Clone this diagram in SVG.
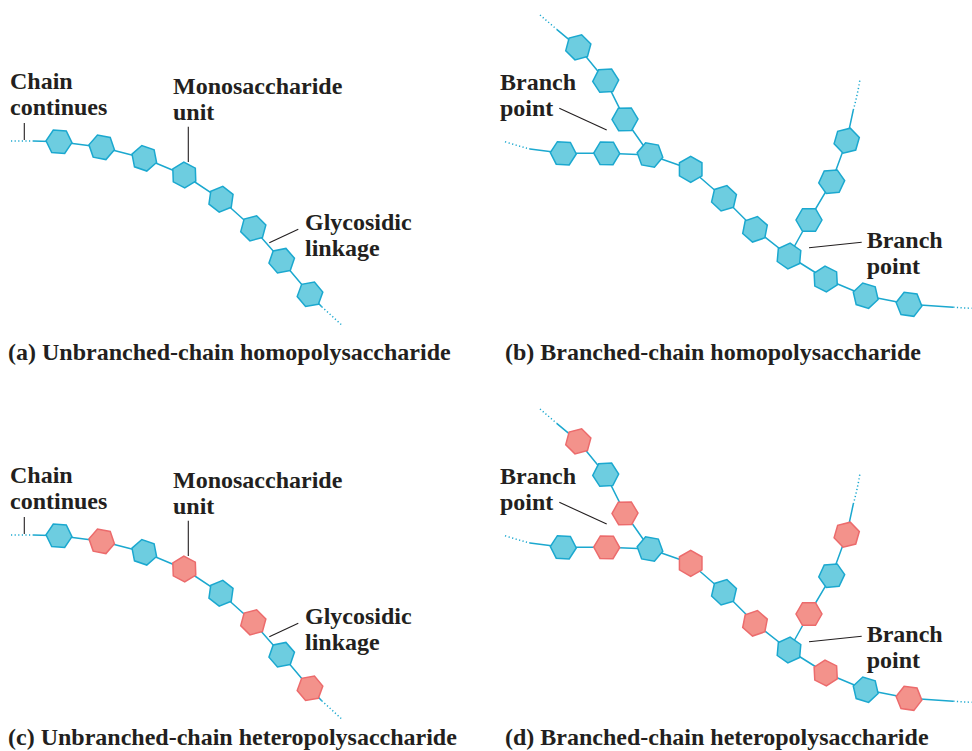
<svg xmlns="http://www.w3.org/2000/svg" xmlns:xlink="http://www.w3.org/1999/xlink" width="972" height="751" viewBox="0 0 972 751">
<style>
text{font-family:"Liberation Serif","Times New Roman",serif;font-weight:bold;font-size:24px;fill:#231f20}
.b{fill:#6dcde0;stroke:#1ba8cf;stroke-width:1.5}
.p{fill:#f3928b;stroke:#ec6b6c;stroke-width:1.5}
.ch{fill:none;stroke:#1ba8cf;stroke-width:1.5;stroke-linejoin:round}
.dt{fill:none;stroke:#1ba8cf;stroke-width:1.5;stroke-dasharray:1.2 2.4}
.ld{fill:none;stroke:#231f20;stroke-width:1.1}
</style>
<defs>
<polygon id="hx" points="13,0 6.5,11.26 -6.5,11.26 -13,0 -6.5,-11.26 6.5,-11.26"/>
</defs>
<rect width="972" height="751" fill="#fff"/>
<g id="connectors">
 <g id="conn-a">
  <polyline class="ch" points="33,141 59,141.7 101.7,147.3 144.3,158.3 184.3,175 221,199.3 253.3,228.3 281.7,260.7 310,294.3 321.7,306.7"/>
  <line class="dt" x1="11" y1="141" x2="33" y2="141"/>
  <line class="dt" x1="321.7" y1="306.7" x2="341.7" y2="325"/>
 </g>
 <g id="conn-b">
  <polyline class="ch" points="530,149 563.3,153.3 606.7,153.3 650,155 690.7,169.3 724,198.3 755,229.3 789,256 825.7,279 865.7,295.7 909,304.3 953.3,307.3"/>
  <polyline class="ch" points="556.7,29.3 578.3,47.3 605.7,80.7 625,119.3 650,155"/>
  <polyline class="ch" points="789,256 809,220 831.7,181.7 846.7,140.7 853.3,110"/>
  <path class="dt" d="M505,141.7 Q518,146 530,149"/>
  <line class="dt" x1="953.3" y1="307.3" x2="971.7" y2="308.3"/>
  <line class="dt" x1="540" y1="15" x2="556.7" y2="29.3"/>
  <path class="dt" d="M853.3,110 Q857.5,95 860,79.3"/>
 </g>
 <g transform="translate(0,394)">
  <g id="conn-c">
   <polyline class="ch" points="33,141 59,141.7 101.7,147.3 144.3,158.3 184.3,175 221,199.3 253.3,228.3 281.7,260.7 310,294.3 321.7,306.7"/>
   <line class="dt" x1="11" y1="141" x2="33" y2="141"/>
   <line class="dt" x1="321.7" y1="306.7" x2="341.7" y2="325"/>
  </g>
  <g id="conn-d">
   <polyline class="ch" points="530,149 563.3,153.3 606.7,153.3 650,155 690.7,169.3 724,198.3 755,229.3 789,256 825.7,279 865.7,295.7 909,304.3 953.3,307.3"/>
   <polyline class="ch" points="556.7,29.3 578.3,47.3 605.7,80.7 625,119.3 650,155"/>
   <polyline class="ch" points="789,256 809,220 831.7,181.7 846.7,140.7 853.3,110"/>
   <path class="dt" d="M505,141.7 Q518,146 530,149"/>
   <line class="dt" x1="953.3" y1="307.3" x2="971.7" y2="308.3"/>
   <line class="dt" x1="540" y1="15" x2="556.7" y2="29.3"/>
   <path class="dt" d="M853.3,110 Q857.5,95 860,79.3"/>
  </g>
 </g>
</g>

<g id="panel-a">
 <g id="a1"><use xlink:href="#hx" class="b" transform="translate(59,141.7) rotate(4)"/></g>
 <g id="a2"><use xlink:href="#hx" class="b" transform="translate(101.7,147.3) rotate(11)"/></g>
 <g id="a3"><use xlink:href="#hx" class="b" transform="translate(144.3,158.3) rotate(19)"/></g>
 <g id="a4"><use xlink:href="#hx" class="b" transform="translate(184.3,175) rotate(28)"/></g>
 <g id="a5"><use xlink:href="#hx" class="b" transform="translate(221,199.3) rotate(38)"/></g>
 <g id="a6"><use xlink:href="#hx" class="b" transform="translate(253.3,228.3) rotate(45)"/></g>
 <g id="a7"><use xlink:href="#hx" class="b" transform="translate(281.7,260.7) rotate(49)"/></g>
 <g id="a8"><use xlink:href="#hx" class="b" transform="translate(310,294.3) rotate(50)"/></g>
 <g id="a-labels">
  <text x="10" y="89">Chain</text>
  <text x="10" y="115">continues</text>
  <line class="ld" x1="24.3" y1="123" x2="24.3" y2="140"/>
  <text x="173" y="94">Monosaccharide</text>
  <text x="173" y="120">unit</text>
  <line class="ld" x1="188.3" y1="126.7" x2="188.3" y2="162"/>
  <text x="305" y="230">Glycosidic</text>
  <text x="305" y="256">linkage</text>
  <line class="ld" x1="298.3" y1="229.3" x2="269.3" y2="242.7"/>
 </g>
</g>

<g id="panel-b">
 <g id="b-u1"><use xlink:href="#hx" class="b" transform="translate(578.3,47.3) rotate(45)"/></g>
 <g id="b-u2"><use xlink:href="#hx" class="b" transform="translate(605.7,80.7) rotate(57)"/></g>
 <g id="b-u3"><use xlink:href="#hx" class="b" transform="translate(625,119.3) rotate(59)"/></g>
 <g id="b-m1"><use xlink:href="#hx" class="b" transform="translate(563.3,153.3) rotate(3)"/></g>
 <g id="b-m2"><use xlink:href="#hx" class="b" transform="translate(606.7,153.3) rotate(1)"/></g>
 <g id="b-m3"><use xlink:href="#hx" class="b" transform="translate(650,155) rotate(10)"/></g>
 <g id="b-m4"><use xlink:href="#hx" class="b" transform="translate(690.7,169.3) rotate(30)"/></g>
 <g id="b-m5"><use xlink:href="#hx" class="b" transform="translate(724,198.3) rotate(43)"/></g>
 <g id="b-m6"><use xlink:href="#hx" class="b" transform="translate(755,229.3) rotate(41)"/></g>
 <g id="b-m7"><use xlink:href="#hx" class="b" transform="translate(789,256) rotate(35)"/></g>
 <g id="b-m8"><use xlink:href="#hx" class="b" transform="translate(825.7,279) rotate(27)"/></g>
 <g id="b-m9"><use xlink:href="#hx" class="b" transform="translate(865.7,295.7) rotate(17)"/></g>
 <g id="b-m10"><use xlink:href="#hx" class="b" transform="translate(909,304.3) rotate(8)"/></g>
 <g id="b-r1"><use xlink:href="#hx" class="b" transform="translate(809,220) rotate(0)"/></g>
 <g id="b-r2"><use xlink:href="#hx" class="b" transform="translate(831.7,181.7) rotate(-5)"/></g>
 <g id="b-r3"><use xlink:href="#hx" class="b" transform="translate(846.7,140.7) rotate(-14)"/></g>
 <g id="b-labels">
  <text x="500" y="90">Branch</text>
  <text x="500" y="116">point</text>
  <line class="ld" x1="559.3" y1="108.3" x2="606.7" y2="130"/>
  <text x="866.7" y="248">Branch</text>
  <text x="866.7" y="274">point</text>
  <line class="ld" x1="809" y1="247.7" x2="861.7" y2="242.3"/>
 </g>
</g>

<g transform="translate(0,394)">
 <g id="panel-c">
  <g id="c1"><use xlink:href="#hx" class="b" transform="translate(59,141.7) rotate(4)"/></g>
  <g id="c2"><use xlink:href="#hx" class="p" transform="translate(101.7,147.3) rotate(11)"/></g>
  <g id="c3"><use xlink:href="#hx" class="b" transform="translate(144.3,158.3) rotate(19)"/></g>
  <g id="c4"><use xlink:href="#hx" class="p" transform="translate(184.3,175) rotate(28)"/></g>
  <g id="c5"><use xlink:href="#hx" class="b" transform="translate(221,199.3) rotate(38)"/></g>
  <g id="c6"><use xlink:href="#hx" class="p" transform="translate(253.3,228.3) rotate(45)"/></g>
  <g id="c7"><use xlink:href="#hx" class="b" transform="translate(281.7,260.7) rotate(49)"/></g>
  <g id="c8"><use xlink:href="#hx" class="p" transform="translate(310,294.3) rotate(50)"/></g>
  <g id="c-labels">
   <text x="10" y="89">Chain</text>
   <text x="10" y="115">continues</text>
   <line class="ld" x1="24.3" y1="123" x2="24.3" y2="140"/>
   <text x="173" y="94">Monosaccharide</text>
   <text x="173" y="120">unit</text>
   <line class="ld" x1="188.3" y1="126.7" x2="188.3" y2="162"/>
   <text x="305" y="230">Glycosidic</text>
   <text x="305" y="256">linkage</text>
   <line class="ld" x1="298.3" y1="229.3" x2="269.3" y2="242.7"/>
  </g>
 </g>
 <g id="panel-d">
  <g id="d-u1"><use xlink:href="#hx" class="p" transform="translate(578.3,47.3) rotate(45)"/></g>
  <g id="d-u2"><use xlink:href="#hx" class="b" transform="translate(605.7,80.7) rotate(57)"/></g>
  <g id="d-u3"><use xlink:href="#hx" class="p" transform="translate(625,119.3) rotate(59)"/></g>
  <g id="d-m1"><use xlink:href="#hx" class="b" transform="translate(563.3,153.3) rotate(3)"/></g>
  <g id="d-m2"><use xlink:href="#hx" class="p" transform="translate(606.7,153.3) rotate(1)"/></g>
  <g id="d-m3"><use xlink:href="#hx" class="b" transform="translate(650,155) rotate(10)"/></g>
  <g id="d-m4"><use xlink:href="#hx" class="p" transform="translate(690.7,169.3) rotate(30)"/></g>
  <g id="d-m5"><use xlink:href="#hx" class="b" transform="translate(724,198.3) rotate(43)"/></g>
  <g id="d-m6"><use xlink:href="#hx" class="p" transform="translate(755,229.3) rotate(41)"/></g>
  <g id="d-m7"><use xlink:href="#hx" class="b" transform="translate(789,256) rotate(35)"/></g>
  <g id="d-m8"><use xlink:href="#hx" class="p" transform="translate(825.7,279) rotate(27)"/></g>
  <g id="d-m9"><use xlink:href="#hx" class="b" transform="translate(865.7,295.7) rotate(17)"/></g>
  <g id="d-m10"><use xlink:href="#hx" class="p" transform="translate(909,304.3) rotate(8)"/></g>
  <g id="d-r1"><use xlink:href="#hx" class="p" transform="translate(809,220) rotate(0)"/></g>
  <g id="d-r2"><use xlink:href="#hx" class="b" transform="translate(831.7,181.7) rotate(-5)"/></g>
  <g id="d-r3"><use xlink:href="#hx" class="p" transform="translate(846.7,140.7) rotate(-14)"/></g>
  <g id="d-labels">
   <text x="500" y="90">Branch</text>
   <text x="500" y="116">point</text>
   <line class="ld" x1="559.3" y1="108.3" x2="606.7" y2="130"/>
   <text x="866.7" y="248">Branch</text>
   <text x="866.7" y="274">point</text>
   <line class="ld" x1="809" y1="247.7" x2="861.7" y2="242.3"/>
  </g>
 </g>
</g>

<g id="captions">
 <text x="8" y="360">(a) Unbranched-chain homopolysaccharide</text>
 <text x="505" y="360">(b) Branched-chain homopolysaccharide</text>
 <text x="8" y="745">(c) Unbranched-chain heteropolysaccharide</text>
 <text x="505" y="745">(d) Branched-chain heteropolysaccharide</text>
</g>
</svg>
